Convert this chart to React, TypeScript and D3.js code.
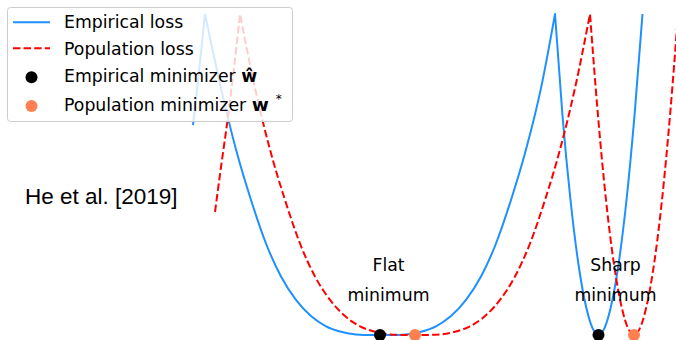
import React from 'react';
import * as d3 from 'd3';

// empirical loss (w, loss)
const empW = [0.06, 0.18, 0.30, 0.62, 0.92, 1.22, 1.52, 1.82, 2.12, 2.42, 2.72, 3.02, 3.32, 3.62, 3.82, 4.02, 4.32, 4.62, 4.92, 5.22, 5.52, 5.82, 6.12, 6.42, 6.72, 7.02, 7.30, 7.45, 7.61, 7.77, 7.93, 8.05, 8.17, 8.29, 8.41, 8.57, 8.73, 8.89, 9.05];
const empL = [0.70, 0.877, 1.07, 0.823, 0.618, 0.45, 0.305, 0.195, 0.117, 0.063, 0.029, 0.011, 0.002, 0, 0, 0, 0.002, 0.011, 0.029, 0.063, 0.117, 0.195, 0.305, 0.45, 0.618, 0.823, 1.07, 0.731, 0.45, 0.235, 0.088, 0.023, 0, 0.023, 0.088, 0.235, 0.45, 0.731, 1.07];

// population loss
const popW = [0.50, 0.62, 0.754, 0.88, 1.00, 1.30, 1.60, 1.90, 2.20, 2.50, 2.80, 3.10, 3.40, 3.70, 4.00, 4.30, 4.50, 4.70, 5.00, 5.30, 5.60, 5.90, 6.20, 6.50, 6.80, 7.10, 7.40, 7.70, 8.00, 8.16, 8.32, 8.48, 8.64, 8.76, 8.88, 9.00, 9.12, 9.28, 9.44, 9.60, 9.76];
const popL = [0.41, 0.56, 0.72, 0.89, 1.07, 0.823, 0.618, 0.45, 0.305, 0.195, 0.117, 0.063, 0.029, 0.011, 0.002, 0, 0, 0, 0.002, 0.011, 0.029, 0.063, 0.117, 0.195, 0.305, 0.45, 0.618, 0.823, 1.07, 0.731, 0.45, 0.235, 0.088, 0.023, 0, 0.023, 0.088, 0.235, 0.45, 0.731, 1.07];

// minimizers
const empMinW = [3.80, 8.17];
const popMinW = [4.50, 8.88];

const legendLabels = ['Empirical loss', 'Population loss', 'Empirical minimizer ', 'Population minimizer '];
const minimaLabels = [['Flat', 'minimum'], ['Sharp', 'minimum']];
const minimaLabelW = [3.97, 8.51];

const W = 676;
const H = 340;
const FONT = 'DejaVu Sans, sans-serif';

const x = d3.scaleLinear().domain([0, 9.72]).range([190, 676]);
const y = d3.scaleLinear().domain([0, 1.07]).range([335, 14]);

// split at the kinks so the peaks stay sharp, then join into one path
function kinkedPath(ws: number[], ls: number[]) {
  const pts: [number, number][] = ws.map((w, i) => [w, ls[i]]);
  const cuts = [0];
  for (let i = 1; i < pts.length - 1; i++) {
    if (pts[i][1] > pts[i - 1][1] && pts[i][1] > pts[i + 1][1]) cuts.push(i);
  }
  cuts.push(pts.length - 1);
  const line = d3.line<[number, number]>()
    .x(d => x(d[0]))
    .y(d => y(d[1]))
    .curve(d3.curveMonotoneX);
  let out = '';
  for (let k = 0; k < cuts.length - 1; k++) {
    const seg = line(pts.slice(cuts[k], cuts[k + 1] + 1)) || '';
    out += k === 0 ? seg : 'L' + seg.slice(1);
  }
  return out;
}

const App = () => {
  const empPath = kinkedPath(empW, empL);
  const popPath = kinkedPath(popW, popL);
  const rowY = [28.3, 54.5, 81.7, 110.5];

  return (
    <svg width={W} height={H} style={{ position: 'absolute', left: 0, top: 0, background: '#fff' }}>
      <path d={empPath} fill="none" stroke="#1e90ff" strokeWidth={2} />
      <path d={popPath} fill="none" stroke="red" strokeWidth={2} strokeDasharray="7.4,3.2" />

      {empMinW.map((w, i) => (
        <circle key={'e' + i} cx={x(w)} cy={y(0)} r={6} fill="black" />
      ))}
      {popMinW.map((w, i) => (
        <circle key={'p' + i} cx={x(w)} cy={y(0)} r={6} fill="#ff7f50" />
      ))}

      {minimaLabels.map((lab, i) => (
        <g key={i} fontFamily={FONT} fontSize={17.3} textAnchor="middle" fill="#000">
          <text x={x(minimaLabelW[i])} y={y(0.212)}>{lab[0]}</text>
          <text x={x(minimaLabelW[i])} y={y(0.112)}>{lab[1]}</text>
        </g>
      ))}

      <text x={25} y={204.3} fontFamily="Liberation Sans, Arial, sans-serif" fontSize={22.5} fill="#000">
        He et al. [2019]
      </text>

      {/* legend */}
      <rect x={7.5} y={7.5} width={285} height={114} rx={3} fill="white" fillOpacity={0.8} stroke="#cccccc" />
      <line x1={13} x2={50} y1={22.3} y2={22.3} stroke="#1e90ff" strokeWidth={2} />
      <line x1={13} x2={50} y1={48.3} y2={48.3} stroke="red" strokeWidth={2} strokeDasharray="7.4,3.2" />
      <circle cx={31.5} cy={77.3} r={6} fill="black" />
      <circle cx={31.5} cy={106} r={6} fill="#ff7f50" />
      <g fontFamily={FONT} fontSize={17.3} fill="#000">
        <text x={64} y={rowY[0]}>{legendLabels[0]}</text>
        <text x={64} y={rowY[1]}>{legendLabels[1]}</text>
        <text x={64} y={rowY[2]} xmlSpace="preserve">
          {legendLabels[2]}<tspan fontWeight="bold">ŵ</tspan>
        </text>
        <text x={64} y={rowY[3]} xmlSpace="preserve">
          {legendLabels[3]}<tspan fontWeight="bold" fontSize={18.5}>w</tspan>
          <tspan dx={7} dy={-8} fontSize={12}>*</tspan>
        </text>
      </g>
    </svg>
  );
};

export default App;
